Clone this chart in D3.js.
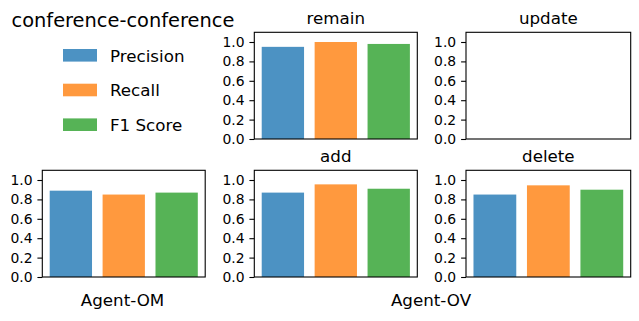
<!DOCTYPE html>
<html>
<head>
<meta charset="utf-8">
<script src="https://cdn.jsdelivr.net/npm/d3@7"></script>
<style>
  html, body { margin: 0; padding: 0; background: #fff; }
  svg { display: block; font-family: "DejaVu Sans", sans-serif; }
</style>
</head>
<body>
<svg id="chart" width="639" height="321"></svg>
<script>
// ---- data ----
const metrics = ["Precision", "Recall", "F1 Score"];
const panelNames = ["Agent-OM", "remain", "update", "add", "delete"];
const agentOMValues = [0.89, 0.85, 0.87];
const remainValues = [0.95, 1.0, 0.98];
const updateValues = [];
const addValues = [0.87, 0.955, 0.91];
const deleteValues = [0.85, 0.945, 0.90];
const yTickValues = [0.0, 0.2, 0.4, 0.6, 0.8, 1.0];
const yTickLabels = ["0.0", "0.2", "0.4", "0.6", "0.8", "1.0"];
const figureTitle = "conference-conference";
const groupLabels = ["Agent-OM", "Agent-OV"];

// ---- styles & layout ----
const colors = ["#1f77b4", "#ff7f0e", "#2ca02c"];
const barAlpha = 0.8;
const layout = {
  "Agent-OM": { x0: 42.3, x1: 205.2, y0: 170.3, y1: 277, title: false },
  "remain":   { x0: 254.3, x1: 417.3, y0: 32.3, y1: 139, title: true },
  "update":   { x0: 466.0, x1: 630.7, y0: 32.3, y1: 139, title: true },
  "add":      { x0: 254.3, x1: 417.3, y0: 170.3, y1: 277, title: true },
  "delete":   { x0: 466.0, x1: 630.7, y0: 170.3, y1: 277, title: true }
};
const panelValues = {
  "Agent-OM": agentOMValues,
  "remain": remainValues,
  "update": updateValues,
  "add": addValues,
  "delete": deleteValues
};

const svg = d3.select("#chart");

panelNames.forEach(name => {
  const L = layout[name];
  const vals = panelValues[name];
  const x = d3.scaleLinear().domain([-0.54, 2.54]).range([L.x0, L.x1]);
  const y = d3.scaleLinear().domain([0, 1.1]).range([L.y1, L.y0]);
  const g = svg.append("g");

  g.selectAll("rect.bar")
    .data(vals)
    .enter().append("rect")
    .attr("class", "bar")
    .attr("x", (d, i) => x(i - 0.4))
    .attr("width", (d, i) => x(i + 0.4) - x(i - 0.4))
    .attr("y", d => y(d))
    .attr("height", d => y(0) - y(d))
    .attr("fill", (d, i) => colors[i])
    .attr("fill-opacity", barAlpha);

  const yAxis = d3.axisLeft(y)
    .tickValues(yTickValues)
    .tickFormat((d, i) => yTickLabels[i])
    .tickSize(4.9)
    .tickPadding(4.9);
  const ax = g.append("g")
    .attr("transform", `translate(${L.x0},0)`)
    .call(yAxis);
  ax.select(".domain").remove();
  ax.selectAll(".tick line").attr("stroke", "#000").attr("stroke-width", 1.1);
  ax.selectAll(".tick text")
    .attr("font-size", "13.9px")
    .attr("font-family", "DejaVu Sans")
    .attr("fill", "#000");

  g.append("rect")
    .attr("x", L.x0).attr("y", L.y0)
    .attr("width", L.x1 - L.x0).attr("height", L.y1 - L.y0)
    .attr("fill", "none").attr("stroke", "#000").attr("stroke-width", 1.1);

  if (L.title) {
    g.append("text")
      .attr("x", (L.x0 + L.x1) / 2)
      .attr("y", L.y0 - 8.3)
      .attr("text-anchor", "middle")
      .attr("font-size", "16.7px")
      .attr("fill", "#000")
      .text(name);
  }
});

// figure title
svg.append("text")
  .attr("x", 11.5).attr("y", 26.5)
  .attr("font-size", "19.4px")
  .attr("fill", "#000")
  .text(figureTitle);

// legend
const legendY = d3.scaleLinear().domain([0, 2]).range([55.3, 124.7]);
const leg = svg.append("g");
metrics.forEach((m, i) => {
  leg.append("rect")
    .attr("x", 63).attr("y", legendY(i) - 6.3)
    .attr("width", 34).attr("height", 12.6)
    .attr("fill", colors[i]).attr("fill-opacity", barAlpha);
  leg.append("text")
    .attr("x", 110).attr("y", legendY(i) + 6.2)
    .attr("font-size", "16.7px").attr("fill", "#000")
    .text(m);
});

// group labels
svg.append("text")
  .attr("x", 122.5).attr("y", 306)
  .attr("text-anchor", "middle").attr("font-size", "16.7px").attr("fill", "#000")
  .text(groupLabels[0]);
svg.append("text")
  .attr("x", 431).attr("y", 306)
  .attr("text-anchor", "middle").attr("font-size", "16.7px").attr("fill", "#000")
  .text(groupLabels[1]);
</script>
</body>
</html>
